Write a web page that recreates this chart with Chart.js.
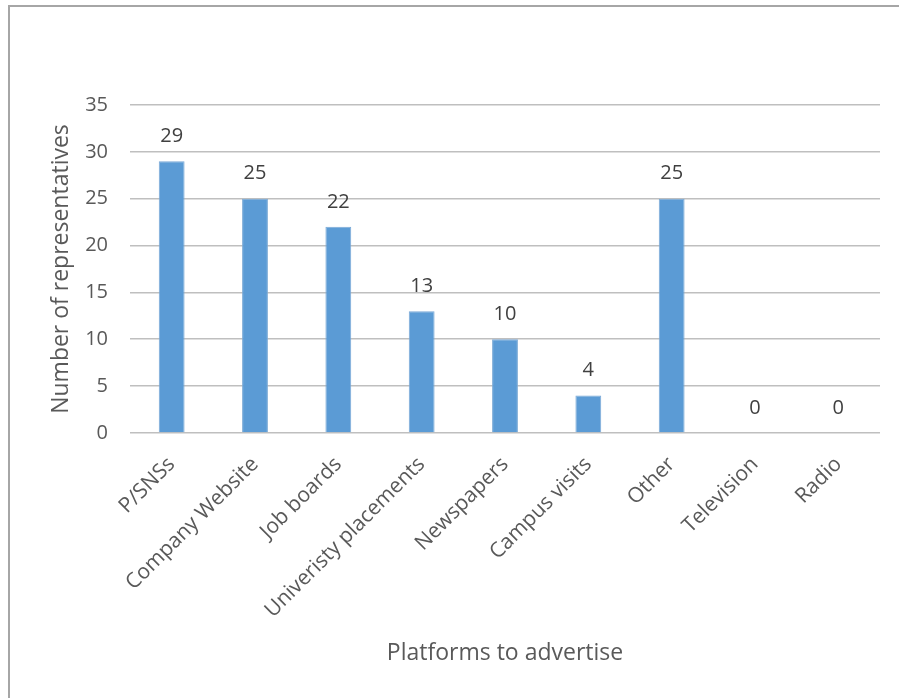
<!DOCTYPE html>
<html lang="en">
<head>
  <meta charset="UTF-8" />
  <title>Platforms to advertise</title>
  <script src="https://cdn.jsdelivr.net/npm/chart.js"></script>
  <style>
    html, body { margin: 0; padding: 0; background: #fff; }
    #wrap {
      position: relative;
      width: 899px;
      height: 698px;
    }
    #frame {
      position: absolute;
      left: 8px;
      top: 5px;
      right: 0;
      bottom: 0;
      border-left: 2px solid #a6a6a6;
      border-top: 2px solid #a6a6a6;
      pointer-events: none;
    }
    canvas { display: block; }
  </style>
</head>
<body>
  <div id="wrap">
    <canvas id="platformChart" width="899" height="698"></canvas>
    <div id="frame"></div>
  </div>

  <script>
    const platforms = ["P/SNSs", "Company Website", "Job boards", "Univeristy placements", "Newspapers", "Campus visits", "Other", "Television", "Radio"];
    const representatives = [29, 25, 22, 13, 10, 4, 25, 0, 0];
    const yTicks = [0, 5, 10, 15, 20, 25, 30, 35];

    const FONT = "'Open Sans', sans-serif";

    // value labels above each bar
    const barValues = {
      id: "barValues",
      afterDatasetsDraw(chart) {
        const { ctx } = chart;
        const meta = chart.getDatasetMeta(0);
        ctx.save();
        ctx.font = `20px ${FONT}`;
        ctx.fillStyle = "#404040";
        ctx.textAlign = "center";
        ctx.textBaseline = "middle";
        meta.data.forEach((bar, i) => {
          ctx.fillText(String(representatives[i]), bar.x, bar.y - 25);
        });
        ctx.restore();
      }
    };

    new Chart(document.getElementById("platformChart"), {
      type: "bar",
      data: {
        labels: platforms,
        datasets: [{
          data: representatives,
          backgroundColor: "#5b9bd5",
          borderColor: "#7aa9d6",
          borderWidth: 1,
          categoryPercentage: 1,
          barPercentage: 0.31
        }]
      },
      options: {
        responsive: false,
        animation: false,
        layout: { padding: { left: 0, right: 19, top: 105, bottom: 0 } },
        plugins: {
          legend: { display: false },
          tooltip: { enabled: false }
        },
        scales: {
          x: {
            grid: { display: false, drawTicks: false },
            border: { display: false },
            ticks: {
              color: "#595959",
              font: { family: FONT, size: 21 },
              minRotation: 45,
              maxRotation: 45,
              padding: 19,
              autoSkip: false
            },
            title: {
              display: true,
              text: "Platforms to advertise",
              color: "#595959",
              font: { family: FONT, size: 23 },
              padding: { top: 4, bottom: 31 }
            },
            afterFit(scale) { scale.height = 265; }
          },
          y: {
            min: 0,
            max: 35,
            afterBuildTicks(scale) { scale.ticks = yTicks.map(v => ({ value: v })); },
            grid: { color: "#bfbfbf", lineWidth: 1.6, drawTicks: false },
            border: { display: false },
            ticks: {
              color: "#595959",
              font: { family: FONT, size: 20 },
              padding: 22
            },
            title: {
              display: true,
              text: "Number of representatives",
              color: "#595959",
              font: { family: FONT, size: 23 },
              padding: { top: 48, bottom: 0 }
            },
            afterFit(scale) { scale.width = 130; }
          }
        }
      },
      plugins: [barValues]
    });
  </script>
</body>
</html>
